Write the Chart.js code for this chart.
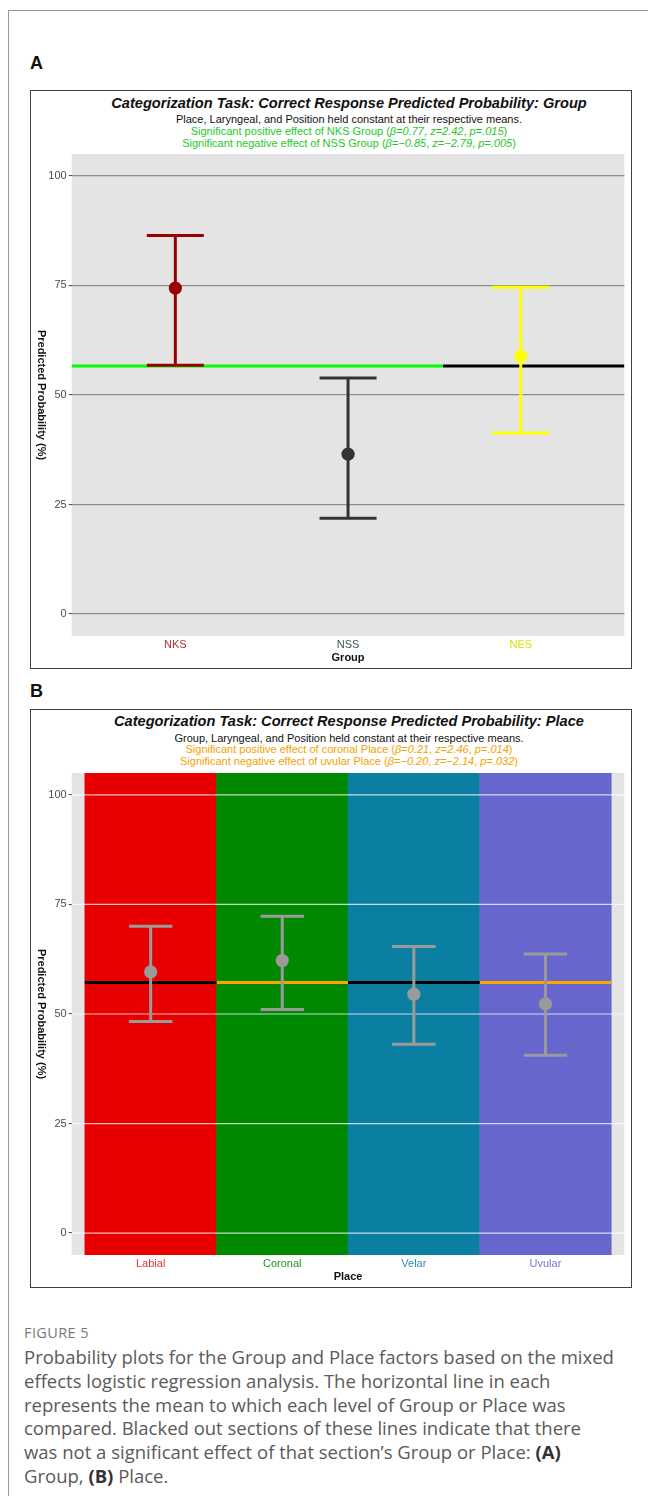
<!DOCTYPE html>
<html>
<head>
<meta charset="utf-8">
<script src="https://cdn.jsdelivr.net/npm/chart.js@4.4.1/dist/chart.umd.min.js"></script>
<style>
    body { margin: 0; background: #fff; font-family: 'Liberation Sans', Arial, sans-serif; }
    .pagina { position: relative; width: 648px; height: 1496px; overflow: hidden; }
    .moldura { position: absolute; left: 8px; top: 10px; width: 700px; height: 1600px;
               border-left: 1.5px solid #9a9a9a; border-top: 1.5px solid #9a9a9a; }
    .letra { position: absolute; left: 30px; font-weight: bold; font-size: 18px; line-height: 18px; color: #111; }
    .caixa { position: absolute; left: 30px; width: 602px; height: 579px; box-sizing: border-box;
             border: 1.5px solid #404040; }
    .titulo { position: absolute; left: 49px; width: 600px; text-align: center;
              font-weight: bold; font-style: italic; font-size: 14.6px; line-height: 15px; color: #111; }
    .sub { position: absolute; left: 49px; width: 600px; text-align: center;
           font-size: 11px; line-height: 11.7px; }
    canvas { position: absolute; left: 31px; }
    .legenda-fig { position: absolute; left: 24px; top: 1323px; font-family: 'Open Sans', sans-serif;
                   font-size: 14.5px; letter-spacing: 0.4px; color: #777; }
    .legenda { position: absolute; left: 24px; top: 1345px; width: 630px; font-family: 'Open Sans', sans-serif;
               font-size: 18.5px; line-height: 23.8px; color: #5a5a5a; }
    .legenda b { color: #333; }
</style>
</head>
<body>
<div class="pagina">
    <div class="moldura"></div>

    <!-- painel A -->
    <div class="letra" style="top:54px">A</div>
    <div class="caixa" style="top:90px"></div>
    <div class="titulo" style="top:95.5px">Categorization Task: Correct Response Predicted Probability: Group</div>
    <div class="sub" style="top:114.2px">
        <div style="color:#111">Place, Laryngeal, and Position held constant at their respective means.</div>
        <div style="color:#1ec81e">Significant positive effect of NKS Group (<i>β</i>=<i>0.77</i>, <i>z</i>=<i>2.42</i>, <i>p</i>=<i>.015</i>)</div>
        <div style="color:#1ec81e">Significant negative effect of NSS Group (<i>β</i>=<i>−0.85</i>, <i>z</i>=<i>−2.79</i>, <i>p</i>=<i>.005</i>)</div>
    </div>
    <canvas id="graficoGrupo" width="600" height="578" style="top:91px"></canvas>

    <!-- painel B -->
    <div class="letra" style="top:682px">B</div>
    <div class="caixa" style="top:709.3px"></div>
    <div class="titulo" style="top:714px">Categorization Task: Correct Response Predicted Probability: Place</div>
    <div class="sub" style="top:732.5px">
        <div style="color:#111">Group, Laryngeal, and Position held constant at their respective means.</div>
        <div style="color:#f5a200">Significant positive effect of coronal Place (<i>β</i>=<i>0.21</i>, <i>z</i>=<i>2.46</i>, <i>p</i>=<i>.014</i>)</div>
        <div style="color:#f5a200">Significant negative effect of uvular Place (<i>β</i>=<i>−0.20</i>, <i>z</i>=<i>−2.14</i>, <i>p</i>=<i>.032</i>)</div>
    </div>
    <canvas id="graficoLocal" width="600" height="578" style="top:710.3px"></canvas>

    <div class="legenda-fig">FIGURE 5</div>
    <div class="legenda">Probability plots for the Group and Place factors based on the mixed<br>
        effects logistic regression analysis. The horizontal line in each<br>
        represents the mean to which each level of Group or Place was<br>
        compared. Blacked out sections of these lines indicate that there<br>
        was not a significant effect of that section’s Group or Place: <b>(A)</b><br>
        Group, <b>(B)</b> Place.</div>
</div>

<script>
// eixo y comum aos dois paineis
const yTicks = [0, 25, 50, 75, 100];

// painel A - Group
const groupLabels = ['NKS', 'NSS', 'NES'];
const groupProb = [74.4, 36.5, 58.9];
const groupLower = [56.8, 21.9, 41.3];
const groupUpper = [86.4, 53.9, 74.6];
const groupColors = ['#990000', '#333333', '#ffff00'];
const groupTickColors = ['#a83030', '#3a5656', '#dede00'];
const groupMean = 56.6;
const groupMeanBreaks = [0.4, 2.55, 3.6];
const groupMeanColors = ['#00ff00', '#000000'];

// painel B - Place
const placeLabels = ['Labial', 'Coronal', 'Velar', 'Uvular'];
const placeProb = [59.6, 62.2, 54.5, 52.3];
const placeLower = [48.3, 51.0, 43.1, 40.6];
const placeUpper = [70.0, 72.3, 65.4, 63.7];
const placeBarColors = ['#e80000', '#008800', '#0a7fa2', '#6666cc'];
const placeTickColors = ['#ec3030', '#1f951f', '#2d8db3', '#7575d6'];
const placeMean = 57.2;
const placeMeanBreaks = [0.5, 1.5, 2.5, 3.5, 4.5];
const placeMeanColors = ['#000000', '#ffa500', '#000000', '#ffa500'];

const CAP = 0.165; // meia largura das barras de erro (unidades do eixo x)

Chart.defaults.font.family = "'Liberation Sans', Arial, sans-serif";

document.addEventListener('DOMContentLoaded', function() {
    criarPainel('graficoGrupo', {
        labels: groupLabels, prob: groupProb, lower: groupLower, upper: groupUpper,
        markColors: groupColors, tickColors: groupTickColors,
        mean: groupMean, breaks: groupMeanBreaks, meanColors: groupMeanColors,
        xTitle: 'Group', gridColor: '#8c8c8c', bars: null
    });
    criarPainel('graficoLocal', {
        labels: placeLabels, prob: placeProb, lower: placeLower, upper: placeUpper,
        markColors: placeLabels.map(() => '#9a9a9a'), tickColors: placeTickColors,
        mean: placeMean, breaks: placeMeanBreaks, meanColors: placeMeanColors,
        xTitle: 'Place', gridColor: 'rgba(255,255,255,0.75)', bars: placeBarColors
    });
});

function barraDeErro(x, lo, hi) {
    return [
        {x: x - CAP, y: hi}, {x: x + CAP, y: hi}, {x: x, y: null},
        {x: x, y: hi}, {x: x, y: lo}, {x: x, y: null},
        {x: x - CAP, y: lo}, {x: x + CAP, y: lo}
    ];
}

function criarPainel(canvasId, p) {
    const n = p.labels.length;
    const datasets = [];

    // faixas coloridas de fundo (so no painel B)
    if (p.bars) {
        datasets.push({
            type: 'bar',
            data: p.labels.map((_, i) => ({x: i + 1, y: [-5, 105]})),
            backgroundColor: p.bars,
            borderWidth: 0,
            barPercentage: 1,
            categoryPercentage: 1,
            order: 10
        });
    }

    // linha da media, em pedacos coloridos
    for (let i = 0; i < p.meanColors.length; i++) {
        datasets.push({
            type: 'line',
            data: [{x: p.breaks[i], y: p.mean}, {x: p.breaks[i + 1], y: p.mean}],
            borderColor: p.meanColors[i],
            borderWidth: 3,
            pointRadius: 0,
            order: 5
        });
    }

    // barras de erro
    for (let i = 0; i < n; i++) {
        datasets.push({
            type: 'line',
            data: barraDeErro(i + 1, p.lower[i], p.upper[i]),
            borderColor: p.markColors[i],
            borderWidth: 3,
            borderCapStyle: 'butt',
            pointRadius: 0,
            order: 2
        });
    }

    // pontos
    datasets.push({
        type: 'scatter',
        data: p.prob.map((v, i) => ({x: i + 1, y: v})),
        pointRadius: 6.6,
        pointBackgroundColor: p.markColors,
        pointBorderWidth: 0,
        order: 1
    });

    const fundoPlugin = {
        id: 'fundo',
        beforeDraw(chart) {
            const a = chart.chartArea, ctx = chart.ctx;
            ctx.save();
            ctx.fillStyle = '#e4e4e4';
            ctx.fillRect(a.left, a.top, a.right - a.left, a.bottom - a.top);
            ctx.restore();
        },
        afterDatasetDraw(chart, args) {
            // grade por cima das faixas coloridas
            if (!p.bars || args.index !== 0) return;
            const a = chart.chartArea, ctx = chart.ctx, y = chart.scales.y;
            ctx.save();
            ctx.strokeStyle = p.gridColor;
            ctx.lineWidth = 1.2;
            yTicks.forEach(v => {
                const py = y.getPixelForValue(v);
                ctx.beginPath();
                ctx.moveTo(a.left, py);
                ctx.lineTo(a.right, py);
                ctx.stroke();
            });
            ctx.restore();
        },
        afterDraw(chart) {
            // titulo do eixo y, lido de cima para baixo
            const a = chart.chartArea, ctx = chart.ctx;
            ctx.save();
            ctx.translate(10.5, (a.top + a.bottom) / 2);
            ctx.rotate(Math.PI / 2);
            ctx.font = 'bold 11px "Liberation Sans", Arial, sans-serif';
            ctx.fillStyle = '#111';
            ctx.textAlign = 'center';
            ctx.textBaseline = 'middle';
            ctx.fillText('Predicted Probability (%)', 0, 0);
            ctx.restore();
        }
    };

    new Chart(document.getElementById(canvasId), {
        type: 'scatter',
        data: {datasets: datasets},
        options: {
            responsive: false,
            animation: false,
            devicePixelRatio: 1,
            layout: {padding: {top: 63, right: 5, left: 0, bottom: 0}},
            plugins: {legend: {display: false}, tooltip: {enabled: false}},
            scales: {
                x: {
                    type: 'linear',
                    min: 0.4,
                    max: n + 0.6,
                    offset: false,
                    afterBuildTicks: axis => { axis.ticks = p.labels.map((_, i) => ({value: i + 1})); },
                    afterFit: axis => { axis.height = 33; },
                    grid: {display: false, drawTicks: false},
                    border: {display: false},
                    ticks: {
                        autoSkip: false, maxRotation: 0, padding: 2.5,
                        font: {size: 11},
                        color: ctx => p.tickColors[ctx.index],
                        callback: (v, i) => p.labels[i]
                    },
                    title: {display: true, text: p.xTitle, color: '#111',
                            font: {size: 11, weight: 'bold'}, padding: {top: 0, bottom: 4.7}}
                },
                y: {
                    min: -5,
                    max: 105,
                    afterBuildTicks: axis => { axis.ticks = yTicks.map(v => ({value: v})); },
                    afterFit: axis => { axis.width = 40.7; },
                    grid: {
                        color: p.bars ? 'rgba(0,0,0,0)' : p.gridColor,
                        lineWidth: 1.2,
                        tickColor: '#444',
                        tickLength: 3,
                        tickWidth: 1
                    },
                    border: {display: false},
                    ticks: {padding: 2, font: {size: 11}, color: '#4d4d4d'}
                }
            }
        },
        plugins: [fundoPlugin]
    });
}
</script>
</body>
</html>
